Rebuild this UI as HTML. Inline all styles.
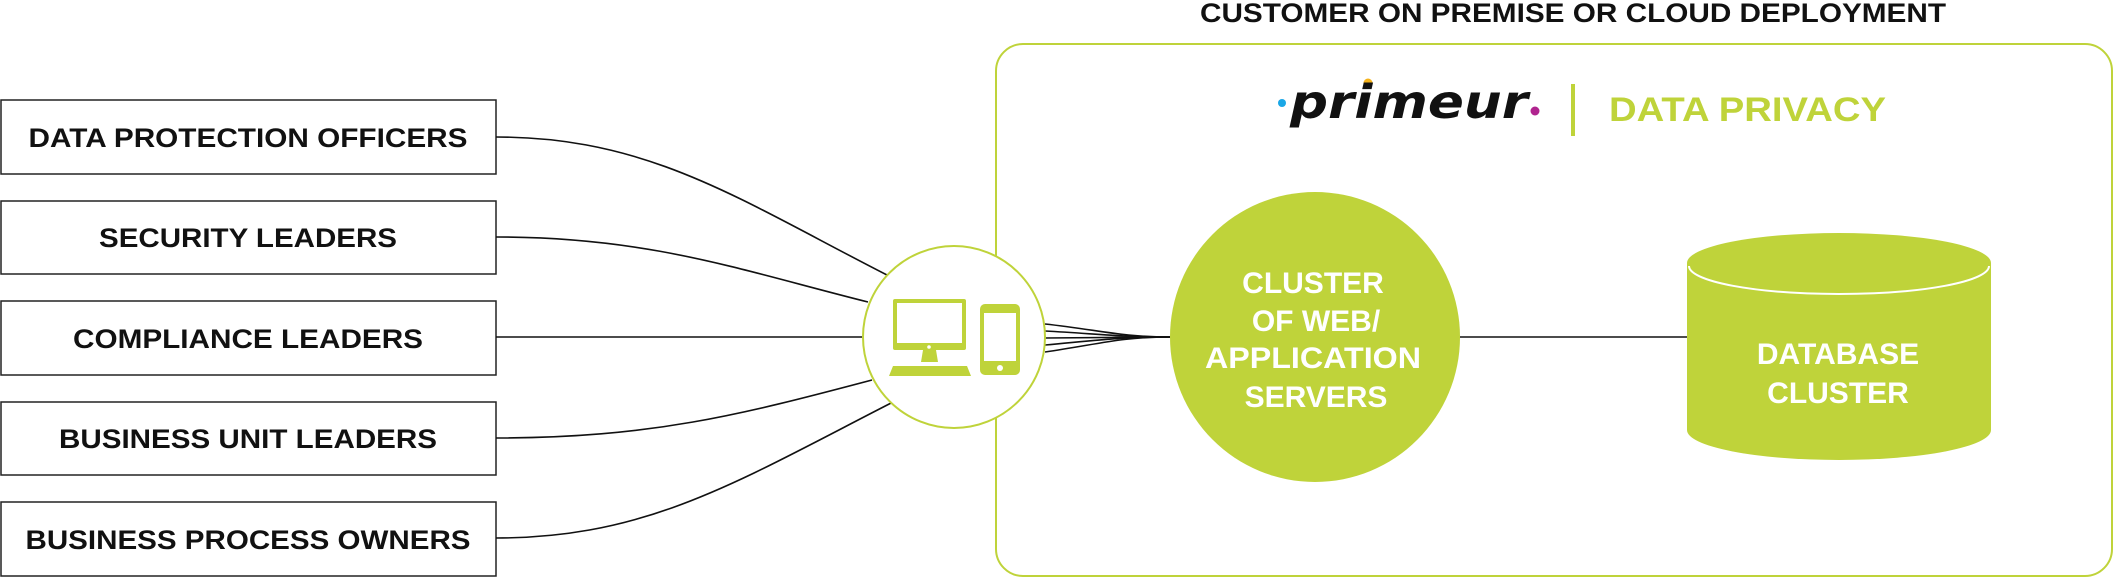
<!DOCTYPE html>
<html><head><meta charset="utf-8"><style>
html,body{margin:0;padding:0;background:#fff;}
svg{display:block;}
text{font-family:"Liberation Sans",sans-serif;font-weight:bold;}
</style></head><body>
<svg width="2114" height="577" viewBox="0 0 2114 577" xmlns="http://www.w3.org/2000/svg">
<text x="1573" y="22" font-size="27" text-anchor="middle" fill="#111" textLength="746" lengthAdjust="spacingAndGlyphs">CUSTOMER ON PREMISE OR CLOUD DEPLOYMENT</text>
<rect x="996" y="44" width="1116" height="532" rx="27" fill="none" stroke="#bfd33a" stroke-width="2"/>
<!-- logo -->
<circle cx="1282" cy="103" r="4" fill="#1aa7e6"/>
<circle cx="1368" cy="83" r="4.5" fill="#f5b21a"/>
<circle cx="1535" cy="111" r="4.5" fill="#b0248f"/>
<text x="1290" y="118" font-size="46" font-style="italic" fill="#111" style="font-family:'DejaVu Sans',sans-serif" textLength="238" lengthAdjust="spacingAndGlyphs">primeur</text>
<rect x="1571" y="84" width="4" height="52" fill="#bfd33a"/>
<text x="1609" y="121" font-size="34" fill="#bfd33a" textLength="277" lengthAdjust="spacingAndGlyphs">DATA PRIVACY</text>
<!-- boxes -->
<g fill="#fff" stroke="#222" stroke-width="1.5">
<rect x="1" y="100" width="495" height="74"/>
<rect x="1" y="201" width="495" height="73"/>
<rect x="1" y="301" width="495" height="74"/>
<rect x="1" y="402" width="495" height="73"/>
<rect x="1" y="502" width="495" height="74"/>
</g>
<g font-size="27" fill="#111" text-anchor="middle">
<text x="248" y="147" textLength="439" lengthAdjust="spacingAndGlyphs">DATA PROTECTION OFFICERS</text>
<text x="248" y="247" textLength="298" lengthAdjust="spacingAndGlyphs">SECURITY LEADERS</text>
<text x="248" y="348" textLength="350" lengthAdjust="spacingAndGlyphs">COMPLIANCE LEADERS</text>
<text x="248" y="448" textLength="378" lengthAdjust="spacingAndGlyphs">BUSINESS UNIT LEADERS</text>
<text x="248" y="549" textLength="445" lengthAdjust="spacingAndGlyphs">BUSINESS PROCESS OWNERS</text>
</g>
<!-- connectors -->
<g fill="none" stroke="#111" stroke-width="1.6">
<path d="M496,137 C650,137 740,200 887,275"/>
<path d="M496,237 C650,237 740,270 868,302"/>
<path d="M496,337 L863,337"/>
<path d="M496,438 C650,438 740,415 872,380"/>
<path d="M496,538 C650,538 740,480 897,400"/>
<path d="M1045,324 C1100,330 1120,337 1170,337"/>
<path d="M1045,331 C1100,334 1120,337 1170,337"/>
<path d="M1045,338 L1170,337"/>
<path d="M1045,345 C1100,340 1120,337 1170,337"/>
<path d="M1045,352 C1100,344 1120,337 1170,337"/>
<path d="M1460,337 L1687,337"/>
</g>
<!-- client circle -->
<circle cx="954" cy="337" r="91" fill="#fff" stroke="#bfd33a" stroke-width="2"/>
<g fill="#bfd33a">
<rect x="893" y="299" width="73" height="51" rx="2"/>
<rect x="897" y="303" width="65" height="40" fill="#fff"/>
<circle cx="929" cy="347" r="1.8" fill="#fff"/>
<path d="M923,350 h13 l2,12 h-17 z"/>
<path d="M893,366 h74 l4,10 h-82 z"/>
<rect x="980" y="304" width="40" height="71" rx="5"/>
<rect x="984" y="313" width="32" height="48" fill="#fff"/>
<circle cx="1000" cy="368" r="3" fill="#fff"/>
</g>
<!-- server cluster -->
<circle cx="1315" cy="337" r="145" fill="#bfd33a"/>
<g font-size="30" fill="#fff" text-anchor="middle">
<text x="1313" y="293">CLUSTER</text>
<text x="1316" y="331">OF WEB/</text>
<text x="1313" y="368" textLength="216" lengthAdjust="spacingAndGlyphs">APPLICATION</text>
<text x="1316" y="407">SERVERS</text>
</g>
<!-- database -->
<path d="M1687,263 V430 A152,30 0 0 0 1991,430 V263 Z" fill="#bfd33a"/>
<ellipse cx="1839" cy="263" rx="152" ry="30" fill="#bfd33a"/>
<path d="M1689,266 A150,28 0 0 0 1989,266" fill="none" stroke="#fff" stroke-width="2"/>
<g font-size="30" fill="#fff" text-anchor="middle">
<text x="1838" y="364">DATABASE</text>
<text x="1838" y="403">CLUSTER</text>
</g>
</svg>
</body></html>
